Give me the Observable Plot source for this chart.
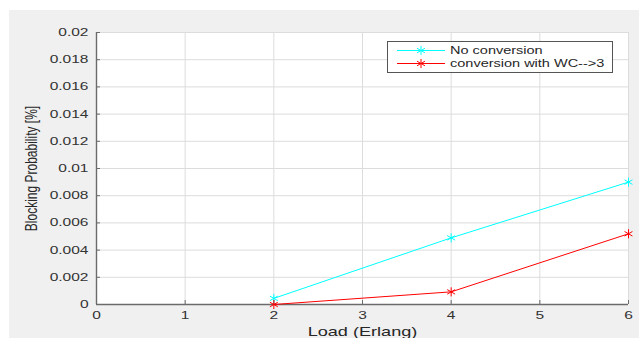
<!DOCTYPE html>
<html>
<head>
<meta charset="utf-8">
<script src="https://cdn.jsdelivr.net/npm/d3@7"></script>
<script src="https://cdn.jsdelivr.net/npm/@observablehq/plot@0.6"></script>
<style>
  html, body { margin: 0; padding: 0; background: #ffffff; }
  #wrap { position: relative; width: 639px; height: 338px; overflow: hidden; }
  #chart { position: absolute; left: 9px; top: 10px; }
  #legend { position: absolute; left: 387px; top: 41px; width: 224px; height: 28px;
            border: 1px solid #555; background: #fff; padding-top: 2px; box-sizing: content-box;
            font-family: "Liberation Sans", Arial, sans-serif; font-size: 10px; color: #262626; }
  #legend .row { height: 13px; display: flex; align-items: center; white-space: nowrap; }
  #legend svg { margin-left: 8px; flex: none; }
  #legend span { display: inline-block; margin-left: 5px; transform: scaleX(1.45); transform-origin: left center; }
</style>
</head>
<body>
<div id="wrap"><div id="chart"></div><div id="legend"></div></div>
<script>
// ---- data ----
const loads = [2, 4, 6];
const noConversion = [0.00045, 0.0049, 0.009];
const withConversion = [0.0, 0.00093, 0.0052];
const seriesNames = ["No conversion", "conversion with WC-->3"];
const xTicks = [0, 1, 2, 3, 4, 5, 6];
const yTicks = [0, 0.002, 0.004, 0.006, 0.008, 0.01, 0.012, 0.014, 0.016, 0.018, 0.02];
const xLabel = "Load (Erlang)";
const yLabel = "Blocking Probability [%]";

// ---- style ----
const colors = ["#00ffff", "#ff0000"];
const axisColor = "#6b6b6b";
const gridColor = "#dcdcdc";
const stretch = 1.45;

const rows = [
  ...loads.map((l, i) => ({load: l, value: noConversion[i], series: seriesNames[0]})),
  ...loads.map((l, i) => ({load: l, value: withConversion[i], series: seriesNames[1]}))
];

const chart = Plot.plot({
  width: 630, height: 328,
  marginLeft: 87, marginRight: 11, marginTop: 22, marginBottom: 34,
  style: {background: "#f0f0f0", fontFamily: "'Liberation Sans', Arial, sans-serif", fontSize: "10.7px", color: "#333", overflow: "visible"},
  x: {domain: [0, 6]},
  y: {domain: [0, 0.02]},
  color: {domain: seriesNames, range: colors},
  marks: [
    Plot.frame({fill: "white", stroke: null}),
    Plot.gridX(xTicks, {stroke: gridColor, strokeOpacity: 1}),
    Plot.gridY(yTicks, {stroke: gridColor, strokeOpacity: 1}),
    Plot.ruleX([0], {stroke: axisColor, strokeWidth: 1.4}),
    Plot.ruleY([0], {stroke: axisColor, strokeWidth: 1.4}),
    Plot.axisX(xTicks, {tickSize: -4, tickPadding: 11, stroke: axisColor, tickFormat: d => String(d),
      label: xLabel, labelAnchor: "center", labelArrow: "none", labelOffset: 31}),
    Plot.axisY(yTicks, {tickSize: -4, tickPadding: 12, stroke: axisColor, tickFormat: d => String(+d.toFixed(3)),
      label: yLabel, labelAnchor: "center", labelArrow: "none", labelOffset: 72}),
    Plot.line(rows, {x: "load", y: "value", z: "series", stroke: "series", strokeWidth: 1}),
    Plot.dot(rows, {x: "load", y: "value", stroke: "series", symbol: "asterisk", r: 4.3, strokeWidth: 1})
  ]
});
document.getElementById("chart").appendChild(chart);

const svg = d3.select(chart);
svg.select('g[aria-label="x-axis label"]').attr("font-size", "12.5px").attr("fill", "#262626");
svg.select('g[aria-label="y-axis label"]').attr("font-size", "12px").attr("fill", "#262626");
svg.selectAll("text").each(function() {
  const t = this.getAttribute("transform") || "";
  const s = /rotate/.test(t) ? `scale(1,${stretch})` : `scale(${stretch},1)`;
  this.setAttribute("transform", (t + " " + s).trim());
});

// ---- legend ----
const legend = d3.select("#legend");
const star = d3.symbol(d3.symbolAsterisk, 4.3 * 4.3 * Math.PI)();
seriesNames.forEach((name, i) => {
  const row = legend.append("div").attr("class", "row");
  const s = row.append("svg").attr("width", 49).attr("height", 13);
  s.append("line").attr("x1", 1).attr("x2", 49).attr("y1", 6.5).attr("y2", 6.5)
    .attr("stroke", colors[i]).attr("stroke-width", 1);
  s.append("path").attr("d", star).attr("transform", "translate(25,6.5)")
    .attr("fill", "none").attr("stroke", colors[i]);
  row.append("span").text(name);
});
</script>
</body>
</html>
